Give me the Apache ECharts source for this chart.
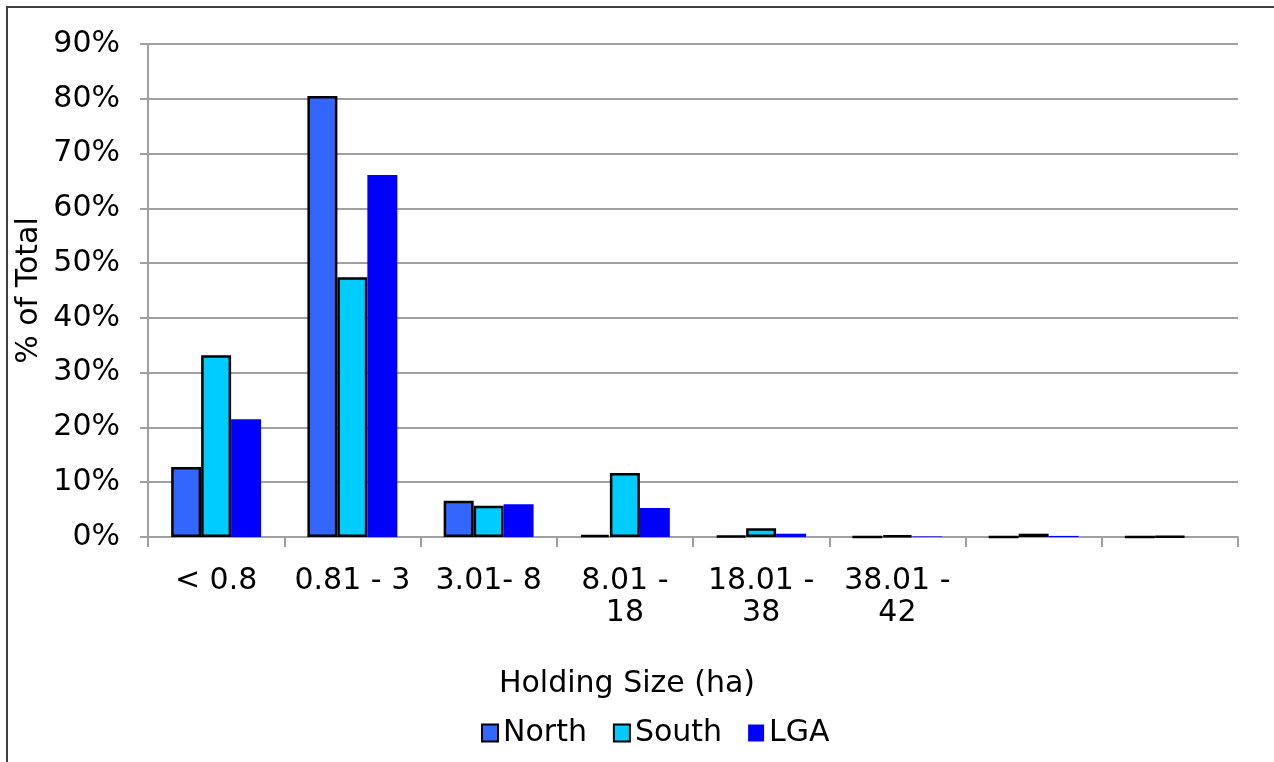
<!DOCTYPE html>
<html>
<head>
<meta charset="utf-8">
<title>Holding Size</title>
<script src="https://cdn.jsdelivr.net/npm/echarts@6/dist/echarts.min.js"></script>
<style>
  html, body { margin: 0; padding: 0; background: #fff; }
  #chart { width: 1274px; height: 762px; }
</style>
</head>
<body>
<div id="chart"></div>
<script>
// Holding size classes (ha)
const categories = ['< 0.8', '0.81 - 3', '3.01- 8', '8.01 -\n18', '18.01 -\n38', '38.01 -\n42', '', ''];

// Share of holdings in each class, percent
const northValues = [12.8, 80.5, 6.6, 0.4, 0.2, 0.0, 0.0, 0.0];
const southValues = [33.2, 47.4, 5.7, 11.7, 1.6, 0.3, 0.6, 0.1];
const lgaValues   = [21.5, 66.1, 6.0, 5.3, 0.6, 0.1, 0.2, 0.0];

const yTicks = [0, 10, 20, 30, 40, 50, 60, 70, 80, 90];

const font = 'DejaVu Sans, Verdana, sans-serif';
const fs = 30;
const chart = echarts.init(document.getElementById('chart'), null, { renderer: 'canvas' });

chart.setOption({
  animation: false,
  backgroundColor: '#ffffff',
  textStyle: { fontFamily: font, color: '#000' },
  graphic: [{
    type: 'rect',
    shape: { x: 7, y: 7, width: 1300, height: 800 },
    style: { fill: 'none', stroke: '#404040', lineWidth: 2 },
    silent: true,
    z: -1
  }],
  grid: { left: 148, right: 36, top: 44, bottom: 225, containLabel: false },
  legend: {
    data: ['North', 'South', 'LGA'],
    left: 476,
    top: 713,
    itemWidth: 16,
    itemHeight: 17,
    itemGap: 26,
    icon: 'rect',
    textStyle: { fontFamily: font, fontSize: fs, color: '#000', padding: [0, 0, 0, 0] }
  },
  xAxis: {
    type: 'category',
    data: categories,
    name: 'Holding Size (ha)',
    nameLocation: 'middle',
    nameGap: 132,
    nameTextStyle: { fontFamily: font, fontSize: fs, color: '#000', padding: [0, 132, 0, 0] },
    axisLine: { lineStyle: { color: '#a0a0a0', width: 2 } },
    axisTick: { show: true, length: 10, lineStyle: { color: '#a0a0a0', width: 2 } },
    axisLabel: { fontFamily: font, fontSize: fs, color: '#000', margin: 28, lineHeight: 32, interval: 0 },
    splitLine: { show: false }
  },
  yAxis: {
    type: 'value',
    min: 0,
    max: 90,
    interval: 10,
    name: '% of Total',
    nameLocation: 'middle',
    nameGap: 104,
    nameMoveOverlap: false,
    nameTextStyle: { fontFamily: font, fontSize: fs, color: '#000' },
    axisLine: { show: true, lineStyle: { color: '#a0a0a0', width: 2 } },
    axisTick: { show: true, length: 8, lineStyle: { color: '#a0a0a0', width: 2 } },
    axisLabel: {
      fontFamily: font, fontSize: fs, color: '#000', margin: 28,
      formatter: v => (yTicks.includes(v) ? v + '%' : '')
    },
    splitLine: { show: true, lineStyle: { color: '#a0a0a0', width: 2 } }
  },
  series: [
    {
      name: 'North', type: 'bar', data: northValues,
      barGap: '0%', barCategoryGap: '34%',
      itemStyle: { color: '#3366ff', borderColor: '#000', borderWidth: 2.5 }
    },
    {
      name: 'South', type: 'bar', data: southValues,
      barGap: '0%', barCategoryGap: '34%',
      itemStyle: { color: '#00ccff', borderColor: '#000', borderWidth: 2.5 }
    },
    {
      name: 'LGA', type: 'bar', data: lgaValues,
      barGap: '0%', barCategoryGap: '34%',
      itemStyle: { color: '#0000ff', borderColor: '#0000ff', borderWidth: 0 }
    }
  ]
});
</script>
</body>
</html>
